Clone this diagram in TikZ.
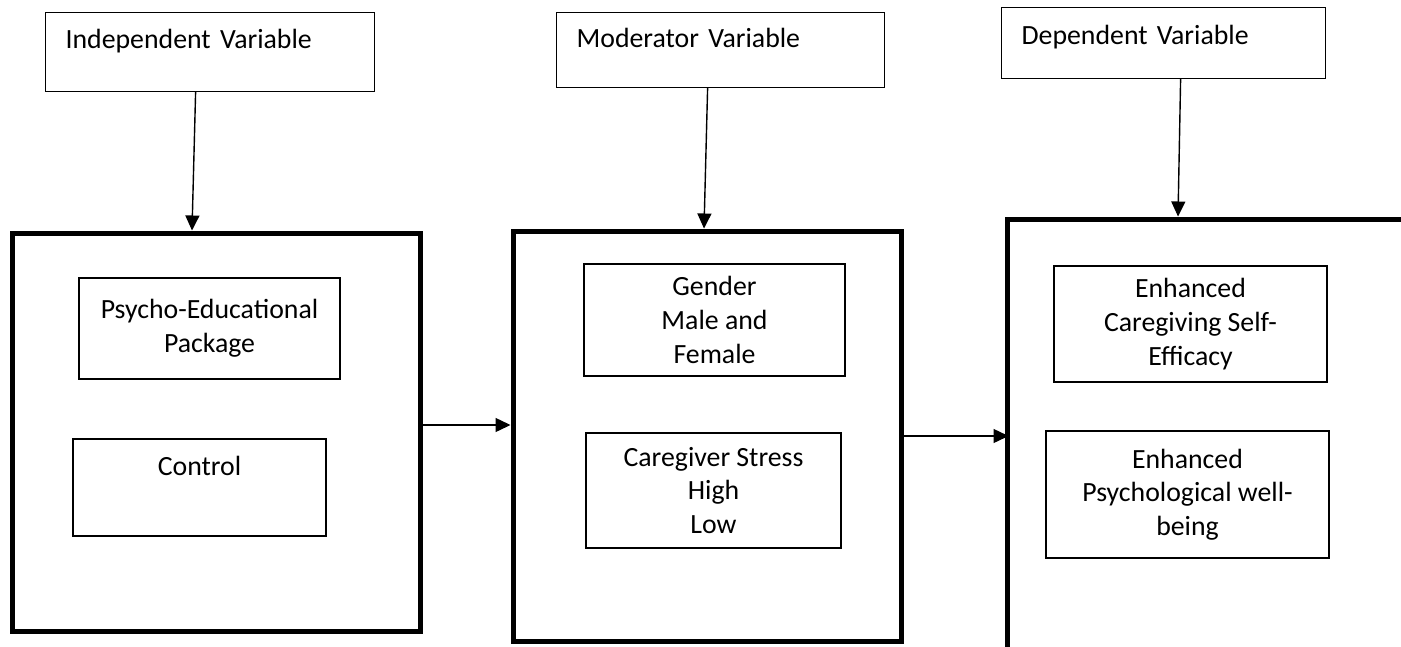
\documentclass[tikz,border=0pt]{standalone}
\usepackage{fontspec}
\setmainfont{Carlito}
\usetikzlibrary{arrows.meta,positioning}

\begin{document}
\begin{tikzpicture}[x=0.5pt,y=-0.5pt,
  head/.style={draw,line width=0.6pt,anchor=north west,align=left,inner xsep=10pt,inner ysep=0pt},
  outer/.style={draw,line width=2.5pt},
  inner/.style={draw,line width=0.6pt,align=center},
  a/.style={-{Triangle[length=7.5pt,width=7pt]},line width=0.7pt}]
  \useasboundingbox (0,0) rectangle (1401,647);
  \clip (0,0) rectangle (1401,647);
  \tikzset{every node/.append style={font=\fontsize{13.9}{16.8}\selectfont}}
  % variable headings
  \node[head,text width=144.5pt,text height=18pt,text depth=21.5pt] (ivtop) at (45,12) {Independent Variable};
  \node[head,text width=144pt,text height=17.5pt,text depth=20pt] (mvtop) at (556,12) {Moderator Variable};
  \node[head,text width=142pt,text height=18.5pt,text depth=17pt] (dvtop) at (1001,7) {Dependent Variable};
  % outer frames
  \node[outer,minimum width=204pt,minimum height=199pt] (ivbox) at (216,432) {};
  \node[outer,minimum width=194pt,minimum height=205pt] (mvbox) at (707,436) {};
  \node[outer,minimum width=236.5pt,minimum height=240.5pt] (dvbox) at (1243.5,459.5) {};
  % inner boxes
  \node[inner,minimum width=130.5pt,minimum height=50.5pt] (pep) at (209.5,328.5) {Psycho-Educational\\Package};
  \node[inner,minimum width=126.5pt,minimum height=48.5pt] (ctrl) at (199.5,487.5) {Control\\ \strut};
  \node[inner,minimum width=130.5pt,minimum height=56pt] (gen) at (714.5,320) {Gender\\Male and\\Female};
  \node[inner,minimum width=127.5pt,minimum height=57.5pt] (cgs) at (713.5,490.5) {Caregiver Stress\\High\\Low};
  \node[inner,minimum width=136.5pt,minimum height=58pt] (cse) at (1190.5,324) {Enhanced\\Caregiving Self-\\Efficacy};
  \node[inner,minimum width=141.5pt,minimum height=63.5pt] (pwb) at (1187.5,494.5) {Enhanced\\Psychological well-\\being};
  % arrows
  \draw[a] ([xshift=-7.25pt]ivtop.south) -- ([xshift=-12pt]ivbox.north);
  \draw[a] ([xshift=-6.5pt]mvtop.south) -- ([xshift=-1.5pt]mvbox.north);
  \draw[a] ([xshift=8.5pt]dvtop.south) -- ([xshift=-32.75pt]dvbox.north);
  \coordinate (h1) at ([yshift=3.5pt]ivbox.east);
  \draw[a] (h1) -- (h1 -| mvbox.west);
  \coordinate (h2) at (mvbox.east);
  \draw[a,shorten >=-2pt] (h2) -- (h2 -| dvbox.west);
\end{tikzpicture}
\end{document}
